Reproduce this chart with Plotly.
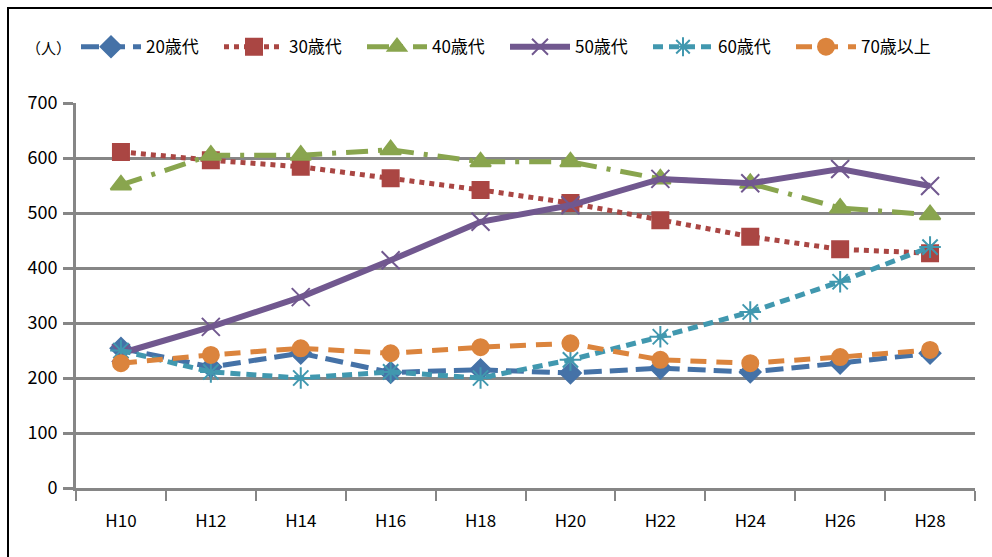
import plotly.graph_objects as go

years = ["H10", "H12", "H14", "H16", "H18", "H20", "H22", "H24", "H26", "H28"]

age20 = [254, 220, 245, 210, 215, 209, 218, 211, 227, 245]
age30 = [611, 596, 584, 563, 542, 518, 487, 457, 434, 427]
age40 = [551, 605, 605, 615, 593, 593, 562, 554, 509, 497]
age50 = [245, 293, 347, 414, 484, 514, 562, 554, 580, 549]
age60 = [250, 211, 200, 211, 200, 233, 275, 320, 375, 438]
age70 = [227, 242, 254, 245, 256, 263, 233, 227, 238, 251]

y_ticks = [0, 100, 200, 300, 400, 500, 600, 700]

FONT = "Noto Sans CJK JP, sans-serif"

series = [
    ("20歳代", age20, "#4572A7", "18px,8px", "diamond", 16, 5),
    ("30歳代", age30, "#AA4643", "dot", "square", 16, 5),
    ("40歳代", age40, "#89A54E", "22px,10px,4px,10px", "triangle-up", 18, 5),
    ("50歳代", age50, "#71588F", "solid", "x-thin-open", 18, 6),
    ("60歳代", age60, "#4198AF", "10px,6px", "asterisk-open", 18, 5),
    ("70歳以上", age70, "#DB843D", "16px,10px", "circle", 16, 5),
]

fig = go.Figure()
for name, vals, color, dash, sym, size, width in series:
    fig.add_trace(go.Scatter(
        x=years, y=vals, name=name, mode="lines+markers",
        line=dict(color=color, width=width, dash=dash),
        marker=dict(symbol=sym, size=size, color=color,
                    line=dict(color=color, width=2)),
    ))

fig.update_layout(
    width=992, height=557,
    margin=dict(l=76, r=17, t=103, b=69),
    paper_bgcolor="white", plot_bgcolor="white",
    font=dict(family=FONT, size=17, color="black"),
    showlegend=True,
    legend=dict(orientation="h", x=0.0, xanchor="left", y=1.145, yanchor="middle",
                entrywidth=68, entrywidthmode="pixels", itemwidth=60,
                font=dict(family=FONT, size=17), bgcolor="rgba(0,0,0,0)",
                traceorder="normal"),
    xaxis=dict(
        type="category", range=[-0.5, 9.5], tickson="boundaries",
        ticks="outside", ticklen=10, tickcolor="#868686", tickwidth=2,
        showline=True, linecolor="#868686", linewidth=3,
        showgrid=False, tickfont=dict(size=17), ticklabelstandoff=16,
    ),
    yaxis=dict(
        range=[0, 700], tickvals=y_ticks, ticks="outside", ticklen=10,
        tickcolor="#868686", tickwidth=3, showline=True, linecolor="#868686",
        linewidth=3, showgrid=True, gridcolor="#868686", gridwidth=3,
        zeroline=False, tickfont=dict(size=18), ticklabelstandoff=2,
    ),
    shapes=[dict(type="rect", xref="paper", yref="paper",
                 x0=(8 - 76) / 899, x1=1.2, y0=-0.5, y1=1 + (103 - 8) / 385,
                 line=dict(color="black", width=2), fillcolor="rgba(0,0,0,0)",
                 layer="below")],
    annotations=[dict(text="（人）", xref="paper", yref="paper",
                      x=(48 - 76) / 899, y=1.145, xanchor="center", yanchor="middle",
                      showarrow=False, font=dict(size=15))],
)

fig.write_html("out.html")
